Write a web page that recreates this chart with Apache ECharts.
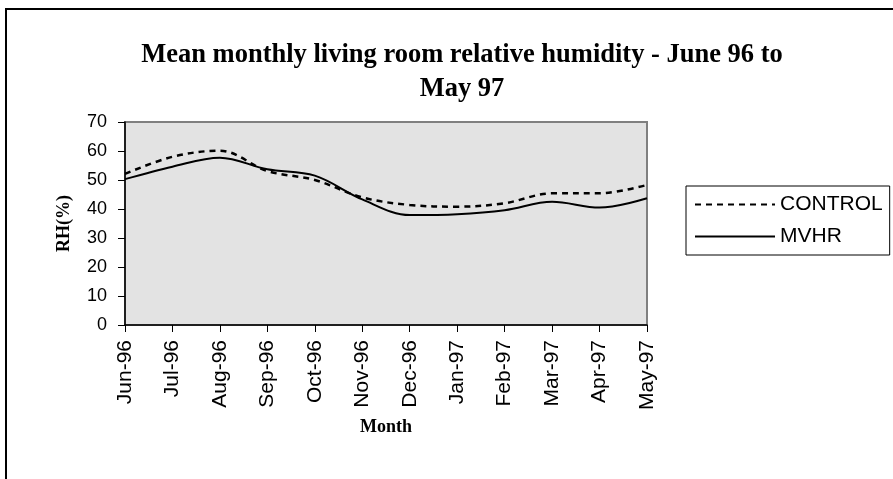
<!DOCTYPE html>
<html>
<head>
<meta charset="utf-8">
<script src="https://cdn.jsdelivr.net/npm/echarts@6/dist/echarts.min.js"></script>
<style>
html, body { margin: 0; padding: 0; background: #fff; }
#main { width: 893px; height: 479px; }
</style>
</head>
<body>
<div id="main"></div>
<script>
// months along x axis
var months = ['Jun-96', 'Jul-96', 'Aug-96', 'Sep-96', 'Oct-96', 'Nov-96',
    'Dec-96', 'Jan-97', 'Feb-97', 'Mar-97', 'Apr-97', 'May-97'];
// mean RH (%)
var control = [52.1, 58.0, 60.1, 53.1, 50.0, 44.0, 41.4, 40.8, 42.0, 45.4, 45.4, 48.3];
var mvhr = [50.3, 54.6, 57.7, 53.7, 51.5, 43.3, 37.9, 38.2, 39.6, 42.5, 40.5, 43.7];
var yTicks = [0, 10, 20, 30, 40, 50, 60, 70];

var chart = echarts.init(document.getElementById('main'));

var option = {
    animation: false,
    backgroundColor: '#fff',
    title: {
        text: 'Mean monthly living room relative humidity - June 96 to\nMay 97',
        left: 457,
        top: 33,
        textAlign: 'center',
        textStyle: {
            fontFamily: 'Liberation Serif',
            fontWeight: 'bold',
            fontSize: 26.5,
            lineHeight: 34,
            color: '#000'
        }
    },
    graphic: [{
        type: 'rect',
        shape: { x: 6, y: 9, width: 1000, height: 1000 },
        style: { fill: 'none', stroke: '#000', lineWidth: 2 },
        z: 0
    }],
    legend: {
        orient: 'vertical',
        left: 686,
        top: 186,
        padding: [8, 7, 8, 8],
        itemWidth: 80,
        itemHeight: 14,
        itemGap: 11,
        borderColor: '#000',
        borderWidth: 1,
        backgroundColor: '#fff',
        itemStyle: { opacity: 0 },
        textStyle: { fontFamily: 'Liberation Sans', fontSize: 21, color: '#000' },
        data: ['CONTROL', 'MVHR']
    },
    grid: {
        left: 125,
        right: 246,
        top: 122,
        bottom: 154,
        show: true,
        backgroundColor: '#e3e3e3',
        borderColor: '#808080',
        borderWidth: 2
    },
    xAxis: {
        type: 'category',
        data: months,
        boundaryGap: false,
        name: 'Month',
        nameLocation: 'middle',
        nameGap: 93,
        nameMoveOverlap: false,
        nameTextStyle: {
            fontFamily: 'Liberation Serif', fontWeight: 'bold', fontSize: 18, color: '#000'
        },
        axisLine: { lineStyle: { color: '#000', width: 1.5 } },
        axisTick: { alignWithLabel: true, length: 7, lineStyle: { color: '#000' } },
        axisLabel: {
            rotate: 90,
            margin: 15,
            fontFamily: 'Liberation Sans',
            fontSize: 21,
            color: '#000'
        },
        splitLine: { show: false }
    },
    yAxis: {
        type: 'value',
        min: yTicks[0],
        max: yTicks[yTicks.length - 1],
        interval: 10,
        name: 'RH(%)',
        nameLocation: 'middle',
        nameRotate: 90,
        nameGap: 52,
        nameMoveOverlap: false,
        nameTextStyle: {
            fontFamily: 'Liberation Serif', fontWeight: 'bold', fontSize: 18, color: '#000'
        },
        axisLine: { show: true, lineStyle: { color: '#000', width: 1.5 } },
        axisTick: { show: true, length: 7, lineStyle: { color: '#000' } },
        axisLabel: {
            margin: 18,
            fontFamily: 'Liberation Sans',
            fontSize: 18,
            color: '#000'
        },
        splitLine: { show: false }
    },
    series: [{
        name: 'CONTROL',
        type: 'line',
        data: control,
        smooth: 0.35,
        symbol: 'none',
        lineStyle: { color: '#000', width: 2.5, type: [6, 5] },
        itemStyle: { color: '#000' }
    }, {
        name: 'MVHR',
        type: 'line',
        data: mvhr,
        smooth: 0.35,
        symbol: 'none',
        lineStyle: { color: '#000', width: 2, type: 'solid' },
        itemStyle: { color: '#000' }
    }]
};
chart.setOption(option);
</script>
</body>
</html>
